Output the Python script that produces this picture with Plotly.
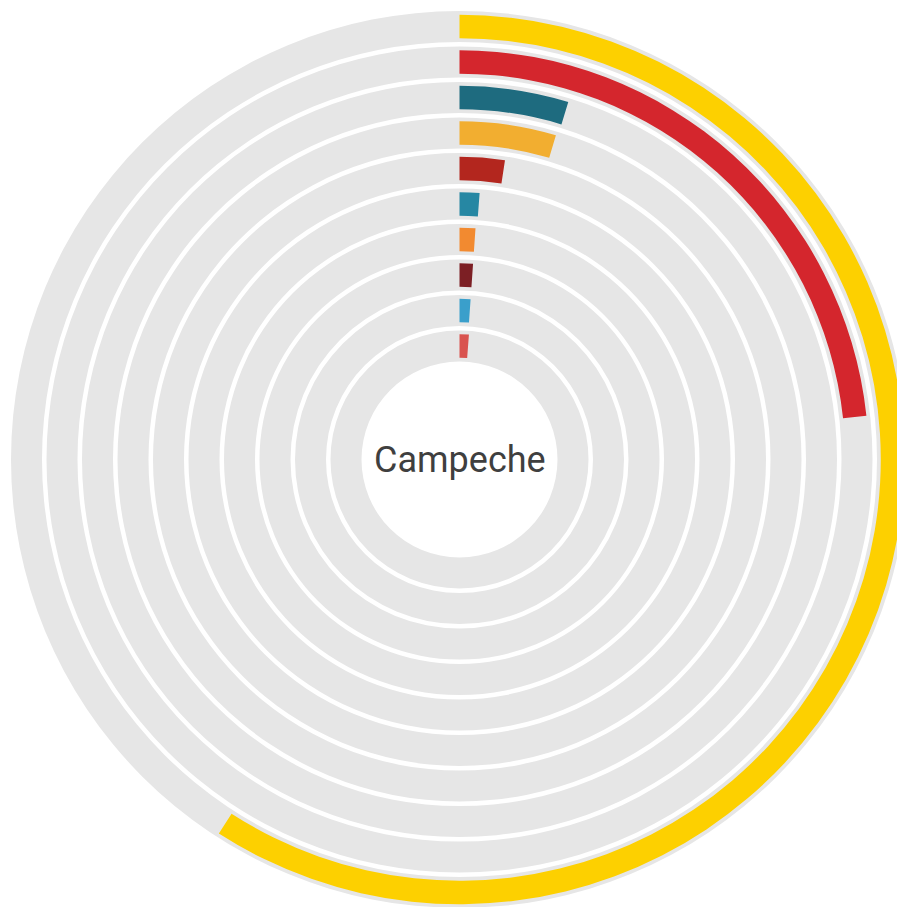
import plotly.graph_objects as go

# Share of each party (percent of the full circle), outermost ring first
parties = ["P1", "P2", "P3", "P4", "P5", "P6", "P7", "P8", "P9", "P10"]
shares = [59.1, 23.3, 4.7, 4.6, 2.4, 1.2, 1.1, 1.1, 1.1, 1.2]
colors = ["#FDD000", "#D4262D", "#1E6B7F", "#F2AE30", "#B3261E",
          "#2687A3", "#F28A30", "#7C1F24", "#3A9FCB", "#D9534F"]
title = "Campeche"

# Ring geometry in radial-axis units (pixels at this figure size)
SIZE = 919
R_INNER = 113.5      # centre of innermost ring
PITCH = 35.5         # distance between ring centres
TRACK = 31.0         # grey track thickness
BAR = 23.5           # coloured bar thickness

n = len(shares)
centers = [R_INNER + (n - 1 - i) * PITCH for i in range(n)]

fig = go.Figure()

# grey background tracks (full circles)
fig.add_trace(go.Barpolar(
    r=[TRACK] * n,
    base=[c - TRACK / 2 for c in centers],
    theta=[180] * n,
    width=[360] * n,
    marker=dict(color="#E6E6E6", line=dict(width=0)),
    hoverinfo="skip",
    showlegend=False,
))

# coloured arcs, value mapped to angle (100% = 360 deg)
fig.add_trace(go.Barpolar(
    r=[BAR] * n,
    base=[c - BAR / 2 for c in centers],
    theta=[s * 1.8 for s in shares],
    width=[s * 3.6 for s in shares],
    marker=dict(color=colors, line=dict(width=0)),
    text=parties,
    showlegend=False,
))

fig.update_layout(
    width=SIZE,
    height=SIZE,
    margin=dict(l=0, r=0, t=0, b=0),
    paper_bgcolor="white",
    plot_bgcolor="white",
    polar=dict(
        domain=dict(x=[0, 1], y=[0, 1]),
        bgcolor="white",
        hole=0,
        radialaxis=dict(range=[0, SIZE / 2], visible=False, showgrid=False),
        angularaxis=dict(rotation=90, direction="clockwise", visible=False,
                         showgrid=False),
        bargap=0,
    ),
    annotations=[dict(
        text=title, x=0.5, y=0.5, xref="paper", yref="paper",
        showarrow=False, xanchor="center", yanchor="middle",
        font=dict(family="Roboto", size=36, color="#3f3f3f"),
    )],
)

fig.write_html(
    "out.html",
    post_script="document.documentElement.style.overflow='hidden';"
                "document.body.style.overflow='hidden';"
                "document.body.style.margin='0';",
)
